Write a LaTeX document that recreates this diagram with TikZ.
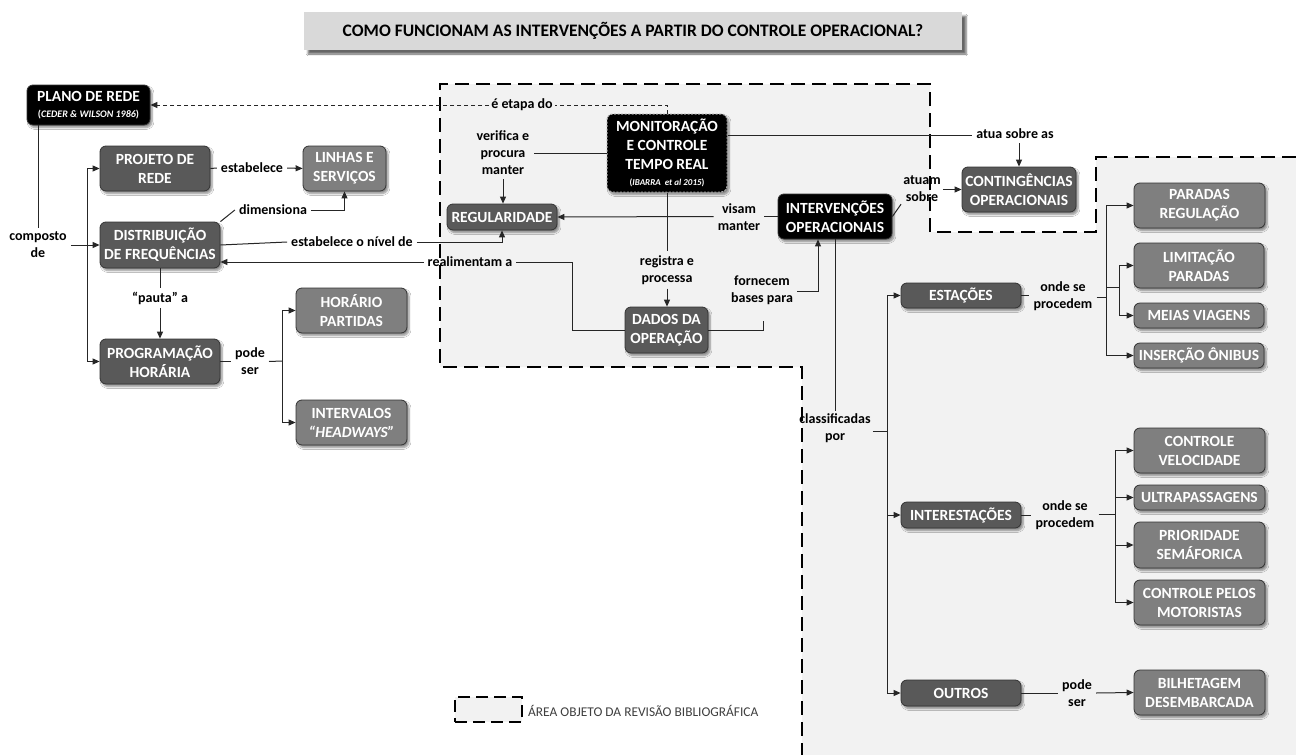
\documentclass[tikz,border=0pt]{standalone}
\usepackage{fontspec}
\setmainfont{Carlito}
\usetikzlibrary{arrows.meta,shadows.blur,calc}
\definecolor{dkbox}{HTML}{595959}
\definecolor{ltbox}{HTML}{7F7F7F}
\definecolor{zone}{HTML}{F2F2F2}
\definecolor{titlebg}{HTML}{D9D9D9}
\definecolor{legendtxt}{HTML}{3F3F3F}
\tikzset{
  box/.style={rounded corners=6pt, draw=black!80, line width=0.8pt, text=white,
    align=center, inner sep=2pt, font=\bfseries\fontsize{15.5}{19}\selectfont,
    blur shadow={shadow xshift=2pt, shadow yshift=-2.5pt, shadow blur steps=6, shadow opacity=45}},
  sz/.style 2 args={minimum width=#1, minimum height=#2},
  dk/.style={box, fill=dkbox},
  lt/.style={box, fill=ltbox},
  bk/.style={box, fill=black},
  lbl/.style={font=\bfseries\fontsize{14}{17}\selectfont, align=center, inner sep=4pt},
  conn/.style={line width=1pt, draw=black!85},
  arr/.style={conn, -{Triangle[length=7pt,width=6pt]}},
  etapaline/.style={line width=1pt, draw=black!85, dash pattern=on 4pt off 3pt},
  zoneline/.style={line width=2.5pt, dash pattern=on 14pt off 7pt},
}
\begin{document}
\begin{tikzpicture}[x=1pt,y=-1pt]
\useasboundingbox (0,0) rectangle (1296,755);
\fill[white] (0,0) rectangle (1296,755);

% area covered by the literature review
\fill[zone] (440,84) -- (930,84) -- (930,232) -- (1096,232) -- (1096,157) -- (1296,157)
  -- (1296,755) -- (802,755) -- (802,367) -- (440,367) -- cycle;
\draw[zoneline] (1296,157) -- (1096,157) -- (1096,232) -- (930,232) -- (930,84)
  -- (440,84) -- (440,367) -- (802,367) -- (802,755);

% title
\node[fill=titlebg, minimum width=658pt, minimum height=38pt,
  blur shadow={shadow xshift=4pt, shadow yshift=-4pt, shadow blur steps=5, shadow opacity=60},
  font=\bfseries\fontsize{17.5}{20}\selectfont] (title) at (633,31)
  {COMO FUNCIONAM AS INTERVENÇÕES A PARTIR DO CONTROLE OPERACIONAL?};

% boxes
\node[bk, sz={123pt}{40pt}] (plano) at (88.5,105)
  {PLANO DE REDE\\[-3pt]{\fontsize{10}{12}\selectfont(\textit{CEDER \& WILSON 1986})}};
\node[dk, sz={110pt}{45pt}] (projeto) at (155,168.5) {PROJETO DE\\REDE};
\node[lt, sz={83pt}{45pt}] (linhas) at (344.5,168.5) {LINHAS E\\SERVIÇOS};
\node[dk, sz={120pt}{46pt}] (distr) at (160,245) {DISTRIBUIÇÃO\\DE FREQUÊNCIAS};
\node[dk, sz={120pt}{45pt}] (prog) at (160,361.5) {PROGRAMAÇÃO\\HORÁRIA};
\node[lt, sz={111pt}{45pt}] (horario) at (351.5,310.5) {HORÁRIO\\PARTIDAS};
\node[lt, sz={111pt}{45pt}] (interv) at (351.5,422.5) {INTERVALOS\\\textit{“HEADWAYS”}};
\node[dk, sz={110pt}{26pt}] (regul) at (502,217) {REGULARIDADE};
\node[bk, sz={120pt}{78pt}, draw=gray!70, dash pattern=on 2pt off 1.5pt, line width=1pt] (monit) at (667,153)
  {MONITORAÇÃO\\E CONTROLE\\TEMPO REAL\\[-3pt]{\fontsize{9}{11}\selectfont(\textit{IBARRA \ et al 2015})}};
\node[bk, sz={114pt}{45pt}] (intervop) at (835,216.5) {INTERVENÇÕES\\OPERACIONAIS};
\node[dk, sz={114pt}{45pt}] (conting) at (1019,189.5) {CONTINGÊNCIAS\\OPERACIONAIS};
\node[dk, sz={83pt}{46pt}] (dados) at (666.5,330) {DADOS DA\\OPERAÇÃO};
\node[dk, sz={120pt}{25pt}] (estacoes) at (961,295.5) {ESTAÇÕES};
\node[dk, sz={120pt}{26pt}] (interest) at (961,515) {INTERESTAÇÕES};
\node[dk, sz={120pt}{26pt}] (outros) at (961,693) {OUTROS};
\node[lt, sz={131pt}{45pt}] (paradas) at (1199.5,205.5) {PARADAS\\REGULAÇÃO};
\node[lt, sz={130pt}{45pt}] (limit) at (1199,265.5) {LIMITAÇÃO\\PARADAS};
\node[lt, sz={130pt}{25pt}] (meias) at (1199,315.5) {MEIAS VIAGENS};
\node[lt, sz={130pt}{25pt}] (insercao) at (1199,355.5) {INSERÇÃO ÔNIBUS};
\node[lt, sz={131pt}{45pt}] (ctrlvel) at (1199.5,450.5) {CONTROLE\\VELOCIDADE};
\node[lt, sz={131pt}{25pt}] (ultra) at (1199.5,497.5) {ULTRAPASSAGENS};
\node[lt, sz={131pt}{46pt}] (prior) at (1199.5,545) {PRIORIDADE\\SEMÁFORICA};
\node[lt, sz={131pt}{45pt}] (motor) at (1199.5,602.5) {CONTROLE PELOS\\MOTORISTAS};
\node[lt, sz={131pt}{45pt}] (bilhet) at (1199.5,692.5) {BILHETAGEM\\DESEMBARCADA};

% connector labels
\node[lbl, fill=zone, inner sep=2pt] (etapa) at (522,105) {é etapa do};
\node[lbl] (composto) at (38,245) {composto\\de};
\node[lbl] (estab) at (252,168) {estabelece};
\node[lbl] (dimens) at (273,210) {dimensiona};
\node[lbl] (estabniv) at (352,242) {estabelece o nível de};
\node[lbl] (realim) at (470,262) {realimentam a};
\node[lbl] (pauta) at (160,298) {“pauta” a};
\node[lbl] (pode1) at (250,361) {pode\\ser};
\node[lbl] (verifica) at (503,153) {verifica e\\procura\\manter};
\node[lbl] (visam) at (739,217) {visam\\manter};
\node[lbl] (registra) at (667,270) {registra e\\processa};
\node[lbl] (fornecem) at (762,290) {fornecem\\bases para};
\node[lbl] (atua) at (1015,134) {atua sobre as};
\node[lbl, inner sep=2pt] (atuam) at (922,189) {atuam\\sobre};
\node[lbl, inner sep=2pt] (classif) at (835,428) {classificadas\\por};
\node[lbl] (onde1) at (1063,296) {onde se\\procedem};
\node[lbl] (onde2) at (1065,515) {onde se\\procedem};
\node[lbl] (pode2) at (1077,693) {pode\\ser};

% junction points
\coordinate (ct) at (87,246);
\coordinate (pt) at (282,361);
\coordinate (fb) at (763,321);
\coordinate (fa) at (818,291);
\coordinate (am) at (955,135);
\coordinate (cT) at (887,431);
\coordinate (eT) at (1106,297);
\coordinate (eB) at (1106,287);
\coordinate (eT2) at (1119,287);
\coordinate (iT) at (1115,514);

% connectors: network plan
\draw[etapaline] (monit.north) -- (monit.north |- etapa.east) -- (etapa.east);
\draw[etapaline, -{Triangle[length=7pt,width=6pt]}] (etapa.west) -- (plano.east);
\draw[conn] (plano.south -| composto.north) -- (composto.north);
\draw[arr] (composto.east |- distr.west) -- (distr.west);
\draw[arr] (ct) |- (projeto.west);
\draw[arr] (ct) |- (prog.west);
\draw[conn] (projeto.east) -- (estab.west);
\draw[arr] (estab.east) -- (linhas.west);
\draw[conn] (distr.north east) -- (dimens.west);
\draw[arr] (dimens.east) -| (linhas.south);
\draw[conn] (distr.east) -- (estabniv.west);
\draw[arr] (estabniv.east) -| (regul.south);
\draw[conn] (dados.west) -| (572,262) -- (realim.east);
\draw[arr] (realim.west) -- (distr.east |- realim.west);
\draw[conn] (distr.south) -- (pauta.north);
\draw[arr] (pauta.south) -- (prog.north);
\draw[conn] (prog.east) -- (pode1.west |- prog.east);
\draw[conn] (pode1.east |- prog.east) -- (pt);
\draw[arr] (pt) |- (horario.west);
\draw[arr] (pt) |- (interv.west);

% connectors: real-time control
\draw[conn] (monit.west) -- (verifica.east |- monit.west);
\draw[arr] (verifica.south) -- (verifica.south |- regul.north);
\draw[conn] (intervop.west) -- (visam.east |- intervop.west);
\draw[arr] (visam.west |- intervop.west) -- (regul.east);
\draw[conn] (monit.south) -- (registra.north);
\draw[arr] (registra.south) -- (registra.south |- dados.north);
\draw[conn] (dados.east) -| (fb);
\draw[arr] (fornecem.east |- fa) -- (fa) -- (fa |- intervop.south);
\draw[conn] (monit.east |- am) -- (atua.west |- am);
\draw[arr] (atua.south -| conting.north) -- (conting.north);
\draw[conn] (intervop.east) -- (atuam.south west);
\draw[arr] (atuam.east |- conting.west) -- (conting.west);

% connectors: classification of interventions
\draw[conn] (intervop.south) -- (classif.north);
\draw[conn] (classif.east |- cT) -- (cT);
\draw[arr] (cT) |- (estacoes.west);
\draw[arr] (cT) |- (interest.west);
\draw[arr] (cT) |- (outros.west);
\draw[conn] (estacoes.east) -- (onde1.west |- estacoes.east);
\draw[conn] (onde1.east |- eT) -- (eT);
\draw[arr] (eT) |- (paradas.west);
\draw[arr] (eT) |- (insercao.west);
\draw[conn] (eB) -- (eT2);
\draw[arr] (eT2) |- (limit.west);
\draw[arr] (eT2) |- (meias.west);
\draw[conn] (interest.east) -- (onde2.west |- interest.east);
\draw[conn] (onde2.east |- iT) -- (iT);
\draw[arr] (iT) |- (ctrlvel.west);
\draw[arr] (iT) |- (ultra.west);
\draw[arr] (iT) |- (prior.west);
\draw[arr] (iT) |- (motor.west);
\draw[conn] (outros.east) -- (pode2.west |- outros.east);
\draw[arr] (pode2.east |- outros.east) -- (bilhet.west);

% legend
\node[fill=zone, draw=black, line width=2pt, dash pattern=on 12pt off 6pt,
  minimum width=67pt, minimum height=25pt] (legbox) at (488.5,709.5) {};
\node[anchor=west, text=legendtxt, font=\fontsize{13.4}{15}\selectfont, inner sep=0pt] (legtxt)
  at (528,711) {ÁREA OBJETO DA REVISÃO BIBLIOGRÁFICA};
\end{tikzpicture}
\end{document}
